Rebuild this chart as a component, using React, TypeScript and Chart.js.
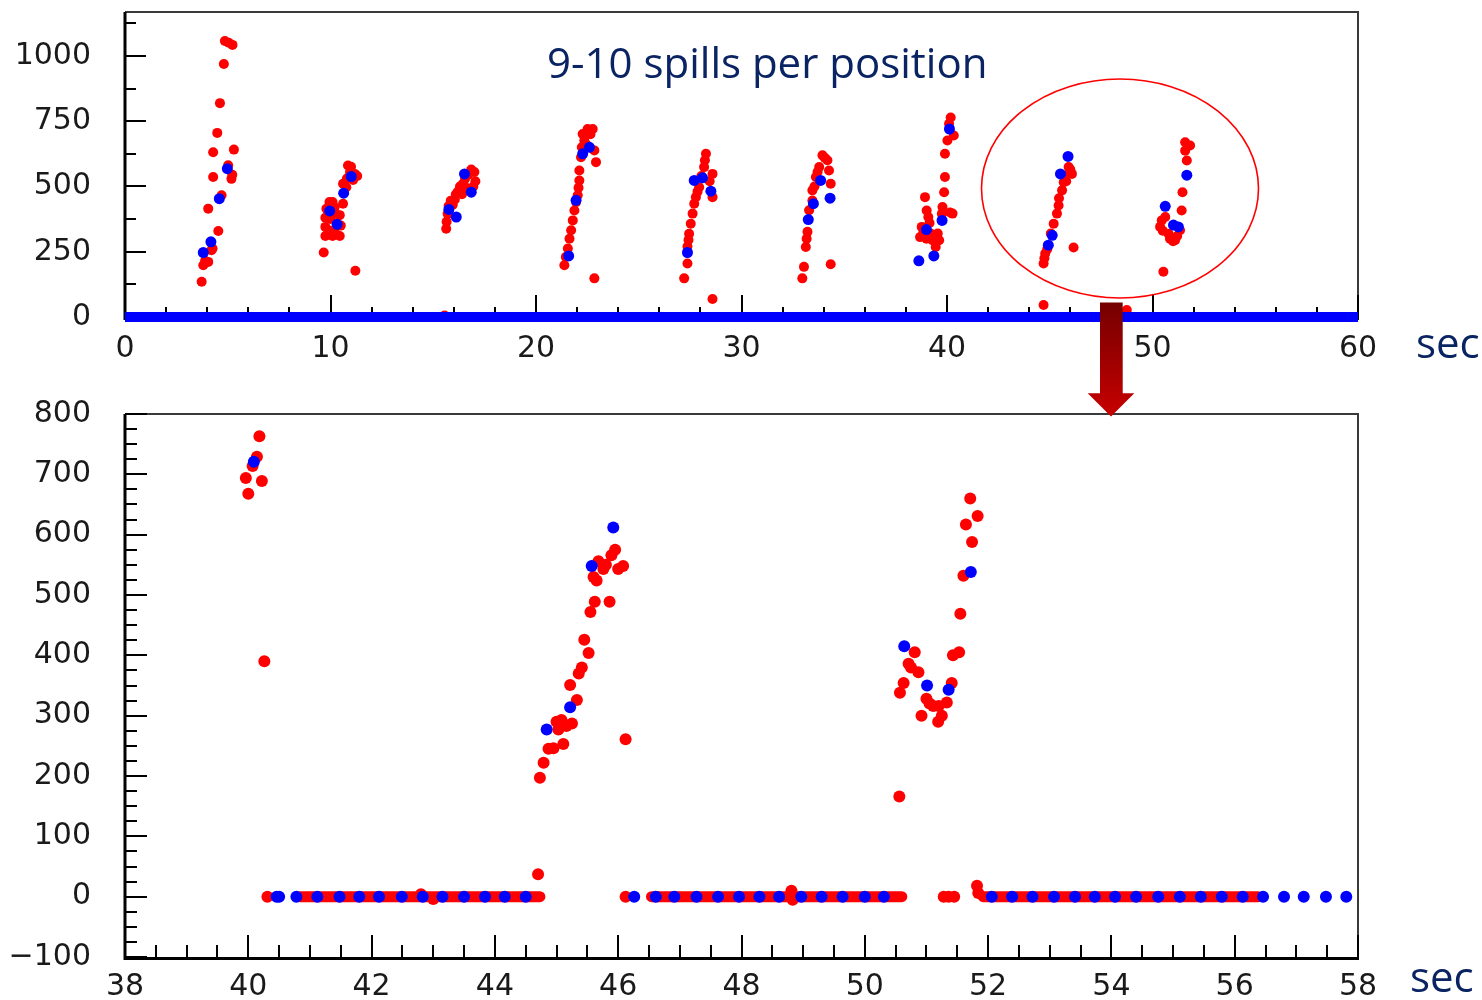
import React, { useEffect, useRef } from 'react';
import { Chart, registerables } from 'chart.js';

Chart.register(...registerables);

// ---------- tick labels ----------
const topXTicks = [0, 10, 20, 30, 40, 50, 60];
const topYTicks = [0, 250, 500, 750, 1000];
const bottomXTicks = [38, 40, 42, 44, 46, 48, 50, 52, 54, 56, 58];
const bottomYTicks = [-100, 0, 100, 200, 300, 400, 500, 600, 700, 800];

// ---------- top chart data (time [s], value) ----------
const topRed: [number, number][] = [
  // position 1
  [3.73, 135], [3.81, 198], [3.9, 215], [4.05, 211], [4.21, 256], [4.26, 262], [4.54, 329], [4.05, 415],
  [4.7, 466], [4.29, 536], [5.18, 529], [5.22, 545], [4.29, 631], [5.3, 641], [4.49, 705], [4.62, 819],
  [4.81, 969], [4.86, 1057], [5.23, 1042], [5.05, 1050], [5.02, 581],
  // position 2
  [9.67, 247], [11.21, 177], [9.75, 310], [9.75, 345], [9.75, 380], [9.8, 415], [9.95, 440], [10.1, 440],
  [10.2, 420], [10.25, 395], [10.1, 310], [10.25, 320], [10.45, 310], [10.5, 350], [10.45, 390],
  [10.0, 330], [10.0, 375], [10.61, 434], [10.77, 497], [10.61, 510], [10.85, 580], [11.0, 575],
  [11.18, 548], [11.3, 540], [11.1, 525], [10.8, 530], [10.95, 555],
  // position 3
  [15.55, 6], [15.63, 338], [15.65, 365], [15.7, 395], [15.75, 425], [15.85, 445], [15.95, 430],
  [16.05, 450], [16.1, 470], [16.2, 480], [16.3, 500], [16.45, 510], [16.55, 530], [16.7, 545],
  [16.85, 565], [17.0, 555], [17.05, 520], [16.95, 500], [16.6, 495], [16.4, 470],
  // position 4
  [21.38, 198], [21.45, 230], [21.55, 262], [21.63, 300], [21.71, 332], [21.79, 370], [21.87, 408],
  [21.95, 440], [22.03, 466], [22.07, 495], [22.11, 523], [22.11, 561], [22.19, 612], [22.23, 650],
  [22.27, 701], [22.35, 676], [22.51, 720], [22.76, 720], [22.65, 700], [22.84, 638], [22.92, 593],
  [22.84, 148], [22.45, 660],
  // position 5
  [27.21, 148], [27.37, 205], [27.37, 270], [27.42, 295], [27.45, 319], [27.53, 357], [27.62, 396],
  [27.7, 434], [27.78, 459], [27.86, 480], [27.94, 497], [28.05, 540], [28.18, 574], [28.27, 625],
  [28.22, 600], [28.59, 548], [28.45, 520], [28.59, 459], [28.59, 69],
  // position 6
  [32.96, 148], [33.04, 192], [33.13, 268], [33.17, 300], [33.21, 326], [33.29, 409], [33.45, 446],
  [33.45, 485], [33.62, 536], [33.7, 555], [33.78, 574], [33.94, 619], [34.05, 610], [34.18, 600],
  [34.26, 561], [34.34, 510], [34.34, 202], [33.55, 500],
  // position 7
  [38.93, 459], [39.01, 408], [39.09, 383], [38.77, 345], [38.69, 306], [38.85, 330], [39.0, 300],
  [39.29, 294], [39.2, 320], [39.45, 268], [39.62, 294], [39.55, 320], [39.78, 421], [39.75, 395],
  [40.27, 396], [40.15, 400], [39.86, 478], [39.9, 536], [39.9, 625], [40.02, 676], [40.18, 764],
  [40.33, 695], [40.1, 740], [39.15, 360],
  // position 8
  [44.7, 205], [44.74, 225], [44.78, 243], [45.05, 320], [45.19, 357], [45.35, 396], [45.43, 427],
  [45.45, 455], [45.6, 485], [45.68, 516], [45.75, 540], [45.92, 574], [46.0, 565], [46.08, 548],
  [45.8, 520], [46.16, 266], [44.7, 46], [48.75, 27], [44.88, 260],
  // position 9
  [50.53, 173], [50.37, 345], [50.45, 370], [50.62, 383], [50.78, 319], [50.85, 300], [51.1, 294],
  [51.2, 310], [51.34, 332], [51.42, 408], [51.46, 478], [51.67, 599], [51.59, 637], [51.59, 669],
  [51.83, 657], [50.5, 330], [51.0, 290],
];
const topBlue: [number, number][] = [
  [3.81, 247], [4.18, 288], [4.59, 453], [4.98, 568],
  [9.96, 406], [10.32, 355], [10.64, 474], [11.01, 538],
  [15.76, 412], [16.12, 383], [16.52, 548], [16.85, 478],
  [21.59, 234], [21.95, 447], [22.27, 625], [22.6, 650],
  [27.37, 247], [27.7, 523], [28.1, 533], [28.51, 482],
  [33.25, 373], [33.5, 434], [33.85, 523], [34.31, 455],
  [38.63, 215], [39.0, 335], [39.36, 234], [39.76, 370], [40.12, 720],
  [44.93, 275], [45.12, 313], [45.52, 548], [45.89, 615],
  [50.62, 424], [51.02, 352], [51.26, 345], [51.67, 543],
];
// continuous run of blue zero readings along the baseline [start, end]
const topBlueBaseline: [number, number][] = [[0, 60]];

// ---------- bottom chart data (time [s], value) ----------
const bottomRed: [number, number][] = [
  [40.18, 763], [40.14, 729], [40.07, 714], [39.96, 694], [40.0, 668], [40.22, 689], [40.26, 390],
  [40.31, 0], [42.8, 4], [43.0, -4], [44.7, 37], [46.12, 0], [48.81, 10], [48.83, -5],
  [51.28, 0], [51.36, 0], [51.45, 0], [51.82, 18], [51.84, 6],
  [44.73, 197], [44.79, 222], [44.87, 245], [44.95, 246], [45.03, 277], [45.08, 293], [45.11, 253],
  [45.16, 283], [45.25, 287], [45.33, 326], [45.22, 351], [45.36, 370], [45.41, 380], [45.52, 404],
  [45.45, 426], [45.55, 472], [45.62, 489], [45.65, 524], [45.68, 556], [45.76, 543], [45.8, 550],
  [45.86, 489], [45.89, 566], [45.95, 575], [46.0, 543], [46.08, 548], [46.12, 261], [45.0, 290],
  [45.6, 530],
  [50.56, 166], [50.81, 405], [50.71, 386], [50.63, 354], [50.57, 338], [50.87, 372], [50.92, 300],
  [51.0, 328], [51.11, 316], [51.19, 290], [51.2, 316], [51.33, 322], [51.41, 354], [51.43, 400],
  [51.53, 405], [51.55, 469], [51.6, 532], [51.74, 588], [51.64, 617], [51.83, 631], [51.71, 660],
  [50.75, 380], [51.05, 320], [51.25, 300],
];
// continuous runs of red zero readings [start, end]
const bottomRedBaseline: [number, number][] = [[40.84, 44.73], [46.54, 50.6], [51.92, 56.38]];
const bottomBlue: [number, number][] = [
  [40.09, 721], [44.84, 277], [45.22, 314], [45.57, 548], [45.92, 612],
  [50.64, 415], [51.01, 350], [51.36, 343], [51.72, 538],
];
const bottomBlueZeroX = [
  40.46, 40.5, 40.78, 41.12, 41.48, 41.8, 42.12, 42.49, 42.83, 43.15, 43.5, 43.84, 44.16, 44.5,
  46.26, 46.61, 46.91, 47.27, 47.62, 47.96, 48.29, 48.61, 48.97, 49.3, 49.64, 50.0, 50.31,
  52.06, 52.39, 52.72, 53.07, 53.41, 53.73, 54.06, 54.4, 54.76, 55.11, 55.45, 55.79, 56.13,
  56.46, 56.8, 57.12, 57.48, 57.81,
];

const RED = '#ff0000';
const BLUE = '#0000ff';
const NAVY = '#0a2463';

const toXY = (arr: [number, number][]) => arr.map(([x, y]) => ({ x, y }));
const runsToLine = (runs: [number, number][]) =>
  runs.flatMap(([a, b]) => [{ x: a, y: 0 }, { x: b, y: 0 }, { x: b, y: null as any }]);

const fmt = (v: number) => (v < 0 ? '\u2212' + Math.abs(v) : String(v));

const framePlugin = {
  id: 'frameTicks',
  beforeDatasetsDraw(chart: any, _args: any, o: any) {
    const { ctx, chartArea: a } = chart;
    const xs = chart.scales.x;
    const ys = chart.scales.y;
    ctx.save();
    ctx.lineCap = 'butt';
    ctx.strokeStyle = '#3a3a3a';
    ctx.lineWidth = 2;
    ctx.beginPath();
    ctx.moveTo(a.left, a.top);
    ctx.lineTo(a.right, a.top);
    ctx.lineTo(a.right, a.bottom);
    ctx.stroke();
    ctx.strokeStyle = '#000';
    ctx.lineWidth = 2;
    const ny = Math.round((ys.max - o.yStart) / o.yMinor);
    for (let i = 0; i <= ny; i++) {
      const v = o.yStart + i * o.yMinor;
      if (v > ys.max + 1e-9) break;
      const major = o.yMajor.some((m: number) => Math.abs(m - v) < 1e-6);
      const py = Math.round(ys.getPixelForValue(v));
      ctx.beginPath();
      ctx.moveTo(a.left, py);
      ctx.lineTo(a.left + (major ? o.yMajorLen : o.yMinorLen), py);
      ctx.stroke();
    }
    const nx = Math.round((xs.max - xs.min) / o.xMinor);
    for (let i = 0; i <= nx; i++) {
      const v = xs.min + i * o.xMinor;
      const major = o.xMajor.some((m: number) => Math.abs(m - v) < 1e-6);
      const px = Math.round(xs.getPixelForValue(v));
      ctx.beginPath();
      ctx.moveTo(px, a.bottom);
      ctx.lineTo(px, a.bottom - (major ? o.xMajorLen : o.xMinorLen));
      ctx.stroke();
    }
    ctx.lineWidth = 3;
    ctx.beginPath();
    ctx.moveTo(a.left, a.top);
    ctx.lineTo(a.left, a.bottom + 1.5);
    ctx.lineTo(a.right + 1, a.bottom + 1.5);
    ctx.stroke();
    ctx.restore();
  },
};

const tickFont = { family: "'DejaVu Sans', sans-serif", size: 30 };

const noPad = (s: any) => {
  s.paddingTop = 0;
  s.paddingBottom = 0;
  s.paddingLeft = 0;
  s.paddingRight = 0;
};

function makeScales(xMin: number, xMax: number, yMin: number, yMax: number, xt: number[], yt: number[], yWidth: number, xHeight: number, xPad: number) {
  return {
    x: {
      type: 'linear',
      min: xMin,
      max: xMax,
      grid: { display: false, drawTicks: false },
      border: { display: false },
      afterBuildTicks: (s: any) => { s.ticks = xt.map((v) => ({ value: v })); },
      afterFit: (s: any) => { s.height = xHeight; noPad(s); },
      ticks: { autoSkip: false, maxRotation: 0, padding: xPad, color: '#1a1a1a', font: tickFont, callback: (v: any) => fmt(Number(v)) },
    },
    y: {
      type: 'linear',
      min: yMin,
      max: yMax,
      grid: { display: false, drawTicks: false },
      border: { display: false },
      afterBuildTicks: (s: any) => { s.ticks = yt.map((v) => ({ value: v })); },
      afterFit: (s: any) => { s.width = yWidth; noPad(s); },
      ticks: { autoSkip: false, padding: 34, color: '#1a1a1a', font: tickFont, callback: (v: any) => fmt(Number(v)) },
    },
  };
}

export default function App() {
  const topRef = useRef<HTMLCanvasElement>(null);
  const botRef = useRef<HTMLCanvasElement>(null);

  useEffect(() => {
    const top = new Chart(topRef.current as HTMLCanvasElement, {
      type: 'scatter',
      data: {
        datasets: [
          {
            data: runsToLine(topBlueBaseline) as any,
            showLine: true, pointRadius: 0, borderColor: BLUE, borderWidth: 10, borderCapStyle: 'butt',
            spanGaps: false, clip: false as any, order: 0,
          } as any,
          { data: toXY(topBlue), pointRadius: 5.5, pointBackgroundColor: BLUE, pointBorderWidth: 0, clip: false as any, order: 1 } as any,
          { data: toXY(topRed), pointRadius: 5, pointBackgroundColor: RED, pointBorderWidth: 0, clip: false as any, order: 2 } as any,
        ],
      },
      options: {
        responsive: false,
        animation: false,
        events: [],
        layout: { padding: { top: 12, right: 1482 - 1358, bottom: 0, left: 0 } },
        plugins: {
          legend: { display: false },
          tooltip: { enabled: false },
          frameTicks: { yStart: 0, yMinor: 125, yMajor: topYTicks, yMajorLen: 21, yMinorLen: 11, xMinor: 2, xMajor: topXTicks, xMajorLen: 22, xMinorLen: 10 },
        } as any,
        scales: makeScales(0, 60, 0, 1168, topXTicks, topYTicks, 125, 63, 14) as any,
      },
      plugins: [framePlugin],
    });

    const bot = new Chart(botRef.current as HTMLCanvasElement, {
      type: 'scatter',
      data: {
        datasets: [
          {
            data: bottomBlueZeroX.map((x) => ({ x, y: 0 })).concat(toXY(bottomBlue)),
            pointRadius: 6, pointBackgroundColor: BLUE, pointBorderWidth: 0, clip: false as any, order: 0,
          } as any,
          { data: toXY(bottomRed), pointRadius: 6, pointBackgroundColor: RED, pointBorderWidth: 0, clip: false as any, order: 1 } as any,
          {
            data: runsToLine(bottomRedBaseline) as any,
            showLine: true, pointRadius: 0, borderColor: RED, borderWidth: 11, borderCapStyle: 'round',
            spanGaps: false, clip: false as any, order: 2,
          } as any,
        ],
      },
      options: {
        responsive: false,
        animation: false,
        events: [],
        layout: { padding: { top: 34, right: 1482 - 1358, bottom: 0, left: 0 } },
        plugins: {
          legend: { display: false },
          tooltip: { enabled: false },
          frameTicks: { yStart: -100, yMinor: 25, yMajor: bottomYTicks, yMajorLen: 22, yMinorLen: 12, xMinor: 0.5, xMajor: bottomXTicks, xMajorLen: 22, xMinorLen: 12 },
        } as any,
        scales: makeScales(38, 58, -100, 800, bottomXTicks, bottomYTicks, 125, 43, 12) as any,
      },
      plugins: [framePlugin],
    });

    return () => {
      top.destroy();
      bot.destroy();
    };
  }, []);

  const textStyle: React.CSSProperties = {
    position: 'absolute',
    fontFamily: "'Open Sans', sans-serif",
    fontSize: 42,
    lineHeight: '42px',
    color: NAVY,
    whiteSpace: 'nowrap',
  };

  return (
    <div style={{ position: 'absolute', left: 0, top: 0, width: 1482, height: 1000, background: '#fff', overflow: 'hidden' }}>
      <canvas ref={topRef} width={1482} height={380} style={{ position: 'absolute', left: 0, top: 0 }} />
      <canvas ref={botRef} width={1482} height={620} style={{ position: 'absolute', left: 0, top: 380 }} />
      <div style={{ ...textStyle, left: 547, top: 41 }}>9-10 spills per position</div>
      <div style={{ ...textStyle, left: 1416, top: 321 }}>sec</div>
      <div style={{ ...textStyle, left: 1410, top: 955 }}>sec</div>
      <svg width={1482} height={1000} style={{ position: 'absolute', left: 0, top: 0, pointerEvents: 'none' }}>
        <defs>
          <linearGradient id="arrowGrad" x1="0" y1="0" x2="0" y2="1">
            <stop offset="0" stopColor="#740000" />
            <stop offset="1" stopColor="#c80000" />
          </linearGradient>
        </defs>
        <ellipse cx={1120} cy={188.5} rx={138.5} ry={109.5} fill="none" stroke="#ff0000" strokeWidth={1.6} />
        <polygon
          points="1100,302.5 1122.7,302.5 1122.7,393.3 1134.3,393.3 1111,416.5 1087.7,393.3 1100,393.3"
          fill="url(#arrowGrad)"
        />
      </svg>
    </div>
  );
}
